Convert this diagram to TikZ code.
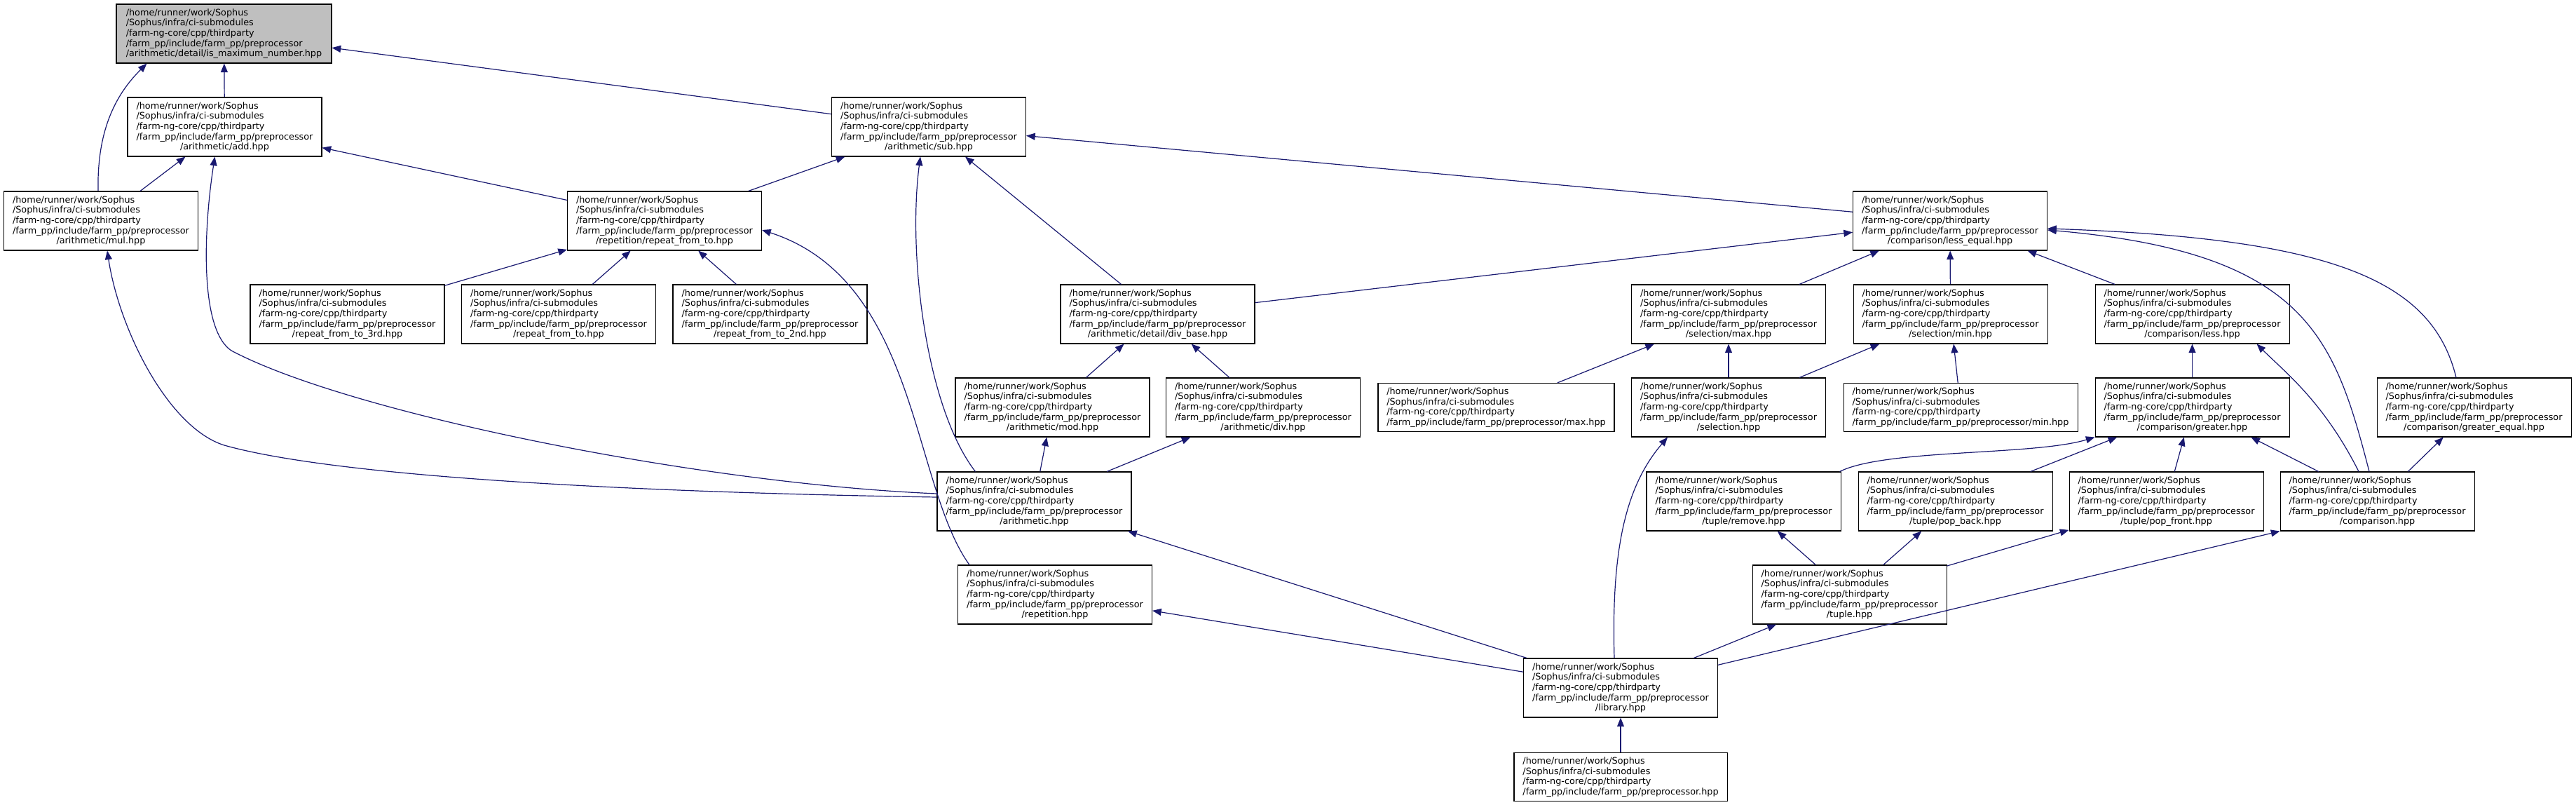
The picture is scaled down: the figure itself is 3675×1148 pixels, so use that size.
\documentclass[tikz,border=0pt]{standalone}
\usepackage{fontspec}
\setmainfont{DejaVu Sans}
\usepackage{tikz}
\usetikzlibrary{arrows.meta,calc}
\definecolor{dgNavy}{HTML}{191970}
\definecolor{dgGrey}{HTML}{BFBFBF}
\newcommand{\incpath}[1]{/home/runner/work/Sophus\\/Sophus/infra/ci-submodules\\/farm-ng-core/cpp/thirdparty\\/farm\_pp/include/farm\_pp/preprocessor\\\hspace*{\fill}#1\hspace*{\fill}}
\newcommand{\incpathflat}[1]{/home/runner/work/Sophus\\/Sophus/infra/ci-submodules\\/farm-ng-core/cpp/thirdparty\\/farm\_pp/include/farm\_pp/preprocessor#1}
\tikzset{
  file box/.style={draw=black,line width=0.8pt,fill=white,align=left,
    minimum width=207.75pt,minimum height=63pt,inner sep=0pt,
    font=\fontsize{9.6}{11}\selectfont},
  flat box/.style={file box,minimum height=51.75pt},
  current box/.style={file box,fill=dgGrey,minimum width=230.25pt},
  include arrow/.style={-{Triangle[length=9.5pt,width=7.5pt]},line width=0.9pt,draw=dgNavy,fill=none}
}

\begin{document}
\begin{tikzpicture}[x=0.75pt,y=-0.75pt]
\useasboundingbox (0,0) rectangle (3675,1148);
\node[current box] (ismax) at (319.5,48) {\incpath{/arithmetic/detail/is\_maximum\_number.hpp}};
\node[file box] (add) at (320.5,181) {\incpath{/arithmetic/add.hpp}};
\node[file box] (sub) at (1325,181) {\incpath{/arithmetic/sub.hpp}};
\node[file box] (mul) at (144,315) {\incpath{/arithmetic/mul.hpp}};
\node[file box] (rft) at (948,315) {\incpath{/repetition/repeat\_from\_to.hpp}};
\node[file box] (le) at (2782,315) {\incpath{/comparison/less\_equal.hpp}};
\node[file box] (rft3) at (495.5,448) {\incpath{/repeat\_from\_to\_3rd.hpp}};
\node[file box] (rfto) at (797,448) {\incpath{/repeat\_from\_to.hpp}};
\node[file box] (rft2) at (1098.5,448) {\incpath{/repeat\_from\_to\_2nd.hpp}};
\node[file box] (divbase) at (1651.5,448) {\incpath{/arithmetic/detail/div\_base.hpp}};
\node[file box] (selmax) at (2466,448) {\incpath{/selection/max.hpp}};
\node[file box] (selmin) at (2782.5,448) {\incpath{/selection/min.hpp}};
\node[file box] (less) at (3127.5,448) {\incpath{/comparison/less.hpp}};
\node[file box] (mod) at (1501.5,581) {\incpath{/arithmetic/mod.hpp}};
\node[file box] (div) at (1802,581) {\incpath{/arithmetic/div.hpp}};
\node[flat box,minimum width=252.75pt] (max) at (2134.5,581) {\incpathflat{/max.hpp}};
\node[file box] (sel) at (2466,581) {\incpath{/selection.hpp}};
\node[flat box,minimum width=250.5pt] (min) at (2797,581) {\incpathflat{/min.hpp}};
\node[file box] (gt) at (3127.5,581) {\incpath{/comparison/greater.hpp}};
\node[file box] (ge) at (3529.5,581) {\incpath{/comparison/greater\_equal.hpp}};
\node[file box] (arith) at (1475.5,715) {\incpath{/arithmetic.hpp}};
\node[file box] (remove) at (2487.5,715) {\incpath{/tuple/remove.hpp}};
\node[file box] (popback) at (2789.5,715) {\incpath{/tuple/pop\_back.hpp}};
\node[file box] (popfront) at (3090.5,715) {\incpath{/tuple/pop\_front.hpp}};
\node[file box] (cmp) at (3391.5,715) {\incpath{/comparison.hpp}};
\node[file box] (rep) at (1505,848) {\incpath{/repetition.hpp}};
\node[file box] (tuple) at (2638.5,848) {\incpath{/tuple.hpp}};
\node[file box] (lib) at (2312,981) {\incpath{/library.hpp}};
\node[flat box,minimum width=228pt] (pre) at (2312,1108) {\incpathflat{.hpp}};
% straight includes
\draw[include arrow] (add) -- (ismax); \draw[include arrow] (sub) -- (ismax); \draw[include arrow] (mul) -- (add);
\draw[include arrow] (rft) -- (add); \draw[include arrow] (rft) -- (sub); \draw[include arrow] (divbase) -- (sub);
\draw[include arrow] (le) -- (sub); \draw[include arrow] (rft3) -- (rft); \draw[include arrow] (rfto) -- (rft);
\draw[include arrow] (rft2) -- (rft); \draw[include arrow] (divbase) -- (le); \draw[include arrow] (selmax) -- (le);
\draw[include arrow] (selmin) -- (le); \draw[include arrow] (less) -- (le); \draw[include arrow] (mod) -- (divbase);
\draw[include arrow] (div) -- (divbase); \draw[include arrow] (max) -- (selmax); \draw[include arrow] (sel) -- (selmax);
\draw[include arrow] (sel) -- (selmin); \draw[include arrow] (min) -- (selmin); \draw[include arrow] (gt) -- (less);
\draw[include arrow] (arith) -- (mod); \draw[include arrow] (arith) -- (div); \draw[include arrow] (popback) -- (gt);
\draw[include arrow] (popfront) -- (gt); \draw[include arrow] (cmp) -- (gt); \draw[include arrow] (cmp) -- (ge);
\draw[include arrow] (lib) -- (arith); \draw[include arrow] (tuple) -- (remove); \draw[include arrow] (tuple) -- (popback);
\draw[include arrow] (tuple) -- (popfront); \draw[include arrow] (lib) -- (cmp.south west); \draw[include arrow] (lib) -- (rep);
\draw[include arrow] (lib) -- (tuple); \draw[include arrow] (pre) -- (lib);
% curved includes
\draw[include arrow] ($(mul.north)+(-4,0)$) .. controls +(-2,-93) and +(-40,40) .. ($(ismax.south west)+(44,0)$);
\draw[include arrow] ($(arith.west)+(0,-11)$) .. controls (1000,690) and (500,590) .. (330,500) .. controls (285,470) and (290,330) .. ($(add.south)+(-14,0)$);
\draw[include arrow] ($(arith.west)+(0,-6)$) .. controls (900,702) and (480,680) .. (320,635) .. controls (240,610) and (170,470) .. ($(mul.south)+(9,0)$);
\draw[include arrow] ($(arith.north west)+(55,0)$) .. controls (1320,580) and (1295,360) .. ($(sub.south)+(-12,0)$);
\draw[include arrow] ($(rep.north west)+(17,0)$) .. controls (1300,690) and (1310,400) .. ($(rft.east)+(0,13)$);
\draw[include arrow] ($(cmp.north)+(-11.5,0)$) .. controls (3330,480) and (3290,360) .. ($(le.east)+(0,13)$);
\draw[include arrow] ($(ge.north)+(-25.5,0)$) .. controls (3470,400) and (3330,340) .. ($(le.east)+(0,11)$);
\draw[include arrow] ($(cmp.north)+(-26.5,0)$) .. controls (3315,573) and (3259,530) .. ($(less.south east)+(-47,0)$);
\draw[include arrow] ($(lib.north)+(-9,0)$) .. controls (2298,770) and (2324,688) .. ($(sel.south)+(-87,0)$);
\draw[include arrow] ($(remove.north east)+(-2,0)$) .. controls (2690,640) and (2900,650) .. (gt.south west);
\end{tikzpicture}
\end{document}
